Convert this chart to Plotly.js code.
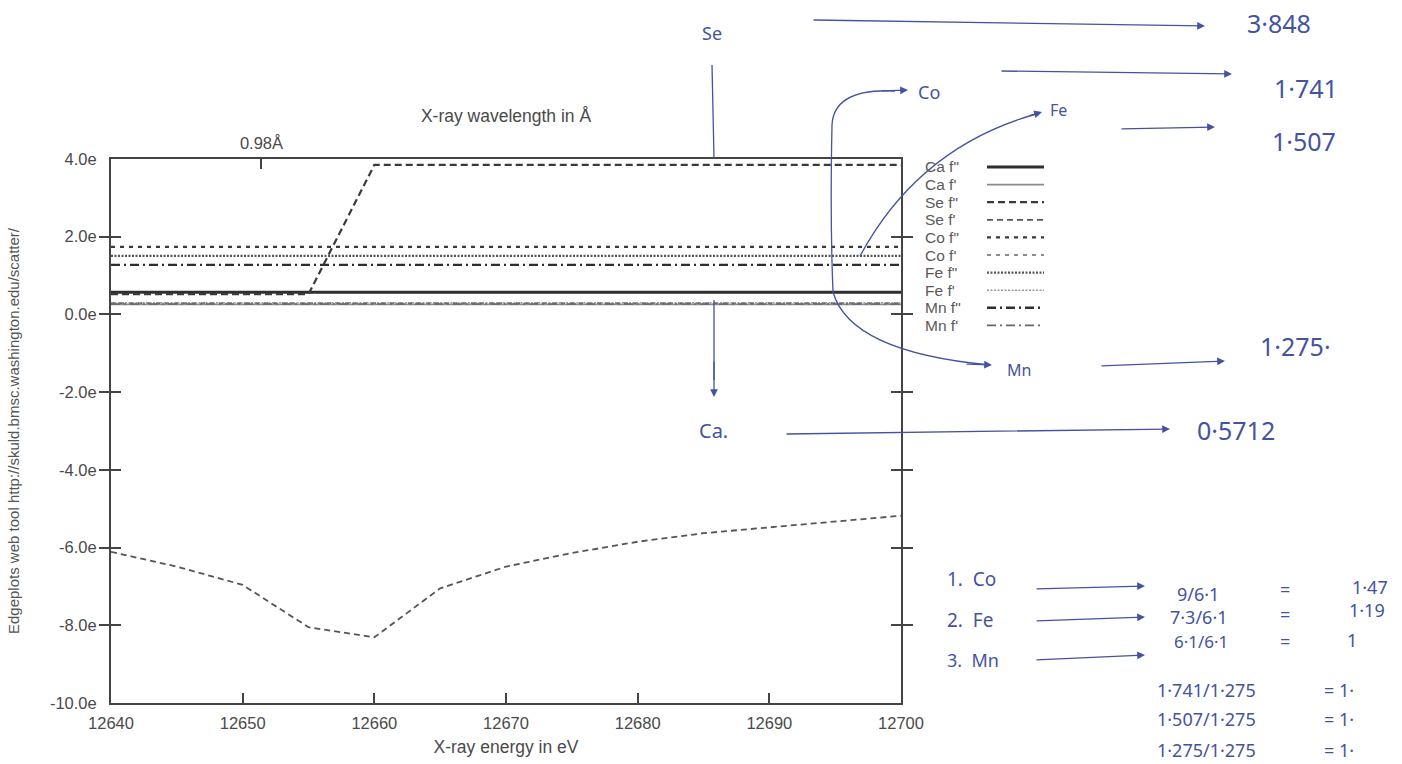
<!DOCTYPE html>
<html>
<head>
<meta charset="utf-8">
<script src="https://cdn.plot.ly/plotly-3.0.1.min.js"></script>
<style>html,body{margin:0;padding:0;background:#fff;}#chart{width:1402px;height:764px;}</style>
</head>
<body>
<div id="chart"></div>
<script>
// ---------- data ----------
const energy = [12640, 12645, 12650, 12655, 12660, 12665, 12670, 12675, 12680, 12685, 12690, 12695, 12700];
const caF2 = [0.5712, 0.5712, 0.5712, 0.5712, 0.5712, 0.5712, 0.5712, 0.5712, 0.5712, 0.5712, 0.5712, 0.5712, 0.5712];
const caF1 = [0.26, 0.26, 0.26, 0.26, 0.26, 0.26, 0.26, 0.26, 0.26, 0.26, 0.26, 0.26, 0.26];
const seF2 = [0.52, 0.52, 0.52, 0.52, 3.848, 3.848, 3.848, 3.848, 3.848, 3.848, 3.848, 3.848, 3.848];
const seF1 = [-6.11, -6.49, -6.96, -8.05, -8.31, -7.05, -6.49, -6.14, -5.85, -5.63, -5.48, -5.33, -5.18];
const coF2 = [1.741, 1.741, 1.741, 1.741, 1.741, 1.741, 1.741, 1.741, 1.741, 1.741, 1.741, 1.741, 1.741];
const coF1 = [0.29, 0.29, 0.29, 0.29, 0.29, 0.29, 0.29, 0.29, 0.29, 0.29, 0.29, 0.29, 0.29];
const feF2 = [1.507, 1.507, 1.507, 1.507, 1.507, 1.507, 1.507, 1.507, 1.507, 1.507, 1.507, 1.507, 1.507];
const feF1 = [0.30, 0.30, 0.30, 0.30, 0.30, 0.30, 0.30, 0.30, 0.30, 0.30, 0.30, 0.30, 0.30];
const mnF2 = [1.275, 1.275, 1.275, 1.275, 1.275, 1.275, 1.275, 1.275, 1.275, 1.275, 1.275, 1.275, 1.275];
const mnF1 = [0.27, 0.27, 0.27, 0.27, 0.27, 0.27, 0.27, 0.27, 0.27, 0.27, 0.27, 0.27, 0.27];

const seriesNames = ['Ca f"', "Ca f'", 'Se f"', "Se f'", 'Co f"', "Co f'", 'Fe f"', "Fe f'", 'Mn f"', "Mn f'"];
const seriesValues = [caF2, caF1, seF2, seF1, coF2, coF1, feF2, feF1, mnF2, mnF1];

const yTickVals = [4, 2, 0, -2, -4, -6, -8, -10];
const yTickText = ['4.0e', '2.0e', '0.0e', '-2.0e', '-4.0e', '-6.0e', '-8.0e', '-10.0e'];
const xTickVals = [12640, 12650, 12660, 12670, 12680, 12690, 12700];
const wavelengthTicks = [0.98];
const wavelengthText = ['0.98Å'];
const HC = 12398.4; // eV·Å

// ---------- styles ----------
const styles = [
  {color: '#2e2e2e', width: 3.2, dash: 'solid'},
  {color: '#8a8a8a', width: 1.6, dash: 'solid'},
  {color: '#3a3a3a', width: 2.2, dash: '7px,4px'},
  {color: '#555555', width: 1.8, dash: '6px,4px'},
  {color: '#3a3a3a', width: 2.2, dash: '4px,5px'},
  {color: '#666666', width: 1.6, dash: '4px,5px'},
  {color: '#555555', width: 2.2, dash: '2px,1.5px'},
  {color: '#999999', width: 1.4, dash: '2px,1.5px'},
  {color: '#2e2e2e', width: 2.4, dash: '9px,4px,2px,4px'},
  {color: '#666666', width: 1.6, dash: '9px,4px,2px,4px'}
];
const order = [0, 2, 4, 6, 8, 1, 3, 5, 7, 9];

const traces = order.map(i => ({
  type: 'scatter', mode: 'lines', name: seriesNames[i],
  x: energy, y: seriesValues[i],
  line: {color: styles[i].color, width: styles[i].width, dash: styles[i].dash},
  showlegend: false, hoverinfo: 'x+y+name'
}));
traces.push({type: 'scatter', mode: 'lines', x: [energy[0], energy[energy.length - 1]], y: [null, null],
  xaxis: 'x2', yaxis: 'y', showlegend: false, hoverinfo: 'skip'});

// ---------- page geometry helpers (pixel -> paper) ----------
const L = 111, R = 901, T = 159, B = 703;
const px = X => (X - L) / (R - L);
const py = Y => (B - Y) / (B - T);

// ---------- custom gnuplot-style legend (text left, sample right) ----------
const shapes = [];
const annotations = [];
seriesNames.forEach((nm, i) => {
  const Y = 167 + i * 17.6;
  annotations.push({xref: 'paper', yref: 'paper', x: px(923), y: py(Y), xanchor: 'left', yanchor: 'middle',
    text: nm, showarrow: false, font: {family: 'Liberation Sans, Arial, sans-serif', size: 15.5, color: '#5a5a5a'}});
  shapes.push({type: 'line', xref: 'paper', yref: 'paper', x0: px(987), x1: px(1044), y0: py(Y), y1: py(Y),
    line: {color: styles[i].color, width: styles[i].width, dash: styles[i].dash}});
});

// ---------- handwritten notes ----------
const ink = '#4453a0';
const hand = {family: 'Noto Sans, DejaVu Sans, sans-serif', size: 19, color: ink};
function note(X, Y, t, size, anchor) {
  annotations.push({xref: 'paper', yref: 'paper', x: px(X), y: py(Y), xanchor: anchor || 'left', yanchor: 'middle',
    text: t, showarrow: false, font: Object.assign({}, hand, size ? {size: size} : {})});
}
function arrow(X1, Y1, X2, Y2) {
  annotations.push({xref: 'paper', yref: 'paper', x: px(X2), y: py(Y2), ax: X1 - X2, ay: Y1 - Y2,
    axref: 'pixel', ayref: 'pixel', text: '', showarrow: true, arrowhead: 2, arrowsize: 1.2,
    arrowwidth: 1.3, arrowcolor: ink, standoff: 0});
}
function seg(X1, Y1, X2, Y2) {
  shapes.push({type: 'line', xref: 'paper', yref: 'paper', x0: px(X1), y0: py(Y1), x1: px(X2), y1: py(Y2),
    line: {color: ink, width: 1.3}});
}
function curve(pts) {
  let d = 'M ' + px(pts[0][0]) + ',' + py(pts[0][1]);
  for (let k = 1; k < pts.length; k += 2) {
    d += ' Q ' + px(pts[k][0]) + ',' + py(pts[k][1]) + ' ' + px(pts[k + 1][0]) + ',' + py(pts[k + 1][1]);
  }
  shapes.push({type: 'path', xref: 'paper', yref: 'paper', path: d, line: {color: ink, width: 1.3}});
}

// Se
note(700, 33, 'Se', 18);
seg(712, 65, 714, 158);
arrow(812, 20, 1205, 26);
note(1245, 23, '3·848', 25);
// Co
note(916, 92, 'Co', 18);
arrow(1000, 71, 1232, 74);
note(1272, 88, '1·741', 25);
// Fe
note(1048, 110, 'Fe', 16);
arrow(1120, 129, 1215, 127);
note(1270, 141, '1·507', 25);
curve([[860, 256], [920, 145], [1040, 113]]);
arrow(1028, 116, 1042, 112);
// Co / Mn connector
curve([[895, 91], [834, 88], [832, 125], [830, 220], [833, 292], [850, 352], [990, 365]]);
arrow(965, 364, 992, 365);
arrow(880, 91, 908, 90);
// Mn
note(1005, 370, 'Mn', 16);
arrow(1100, 366, 1225, 361);
note(1258, 346, '1·275·', 25);
// Ca
seg(714, 300, 714, 380);
arrow(714, 360, 714, 397);
note(697, 430, 'Ca.', 20);
arrow(785, 434, 1170, 429);
note(1195, 430, '0·5712', 25);

// bottom-right calculations
note(945, 579, '1.  Co', 19);
arrow(1035, 589, 1145, 586);
note(1175, 594, '9/6·1', 18);
note(1278, 589, '=', 18);
note(1350, 587, '1·47', 18);
note(945, 620, '2.  Fe', 19);
arrow(1035, 621, 1145, 617);
note(1168, 617, '7·3/6·1', 18);
note(1278, 614, '=', 18);
note(1347, 610, '1·19', 18);
note(945, 660, '3.  Mn', 18);
arrow(1035, 660, 1145, 655);
note(1172, 641, '6·1/6·1', 17);
note(1278, 641, '=', 18);
note(1345, 640, '1', 18);
note(1155, 690, '1·741/1·275', 18);
note(1322, 690, '= 1·', 18);
note(1155, 719, '1·507/1·275', 18);
note(1322, 719, '= 1·', 18);
note(1155, 750, '1·275/1·275', 18);
note(1322, 750, '= 1·', 18);

const tickFont = {family: 'Liberation Sans, Arial, sans-serif', size: 16.5, color: '#4a4a4a'};
const titleFont = {family: 'Liberation Sans, Arial, sans-serif', size: 17.5, color: '#4a4a4a'};

const layout = {
  width: 1402, height: 764,
  margin: {l: L, r: 1402 - R, t: T, b: 764 - B, pad: 0},
  paper_bgcolor: '#ffffff', plot_bgcolor: '#ffffff',
  showlegend: false,
  font: tickFont,
  xaxis: {
    range: [12640, 12700], tickvals: xTickVals, ticktext: xTickVals.map(String),
    ticks: 'inside', ticklen: 10, tickwidth: 1.5, tickcolor: '#444', ticklabelstandoff: 4,
    showline: true, linecolor: '#444', linewidth: 2, mirror: true,
    showgrid: false, zeroline: false, tickfont: tickFont,
    title: {text: 'X-ray energy in eV', font: titleFont, standoff: 10}
  },
  xaxis2: {
    overlaying: 'x', side: 'top', range: [12640, 12700],
    tickvals: wavelengthTicks.map(w => HC / w), ticktext: wavelengthText,
    ticks: 'inside', ticklen: 10, tickwidth: 1.5, tickcolor: '#444', ticklabelstandoff: 1,
    showline: true, linecolor: '#444', linewidth: 2,
    showgrid: false, zeroline: false, tickfont: tickFont,
    title: {text: 'X-ray wavelength in Å', font: titleFont, standoff: 7}
  },
  yaxis: {
    range: [-10, 4], tickvals: yTickVals, ticktext: yTickText,
    ticks: 'inside', ticklen: 10, tickwidth: 1.5, tickcolor: '#444', ticklabelstandoff: 9,
    showline: true, linecolor: '#444', linewidth: 2, mirror: 'allticks',
    showgrid: false, zeroline: false, tickfont: tickFont,
    title: {text: 'Edgeplots web tool http://skuld.bmsc.washington.edu/scatter/',
      font: {family: 'Liberation Sans, Arial, sans-serif', size: 15, color: '#555'}, standoff: 27}
  },
  shapes: shapes,
  annotations: annotations
};

Plotly.newPlot('chart', traces, layout, {displayModeBar: false, responsive: false});
</script>
</body>
</html>
